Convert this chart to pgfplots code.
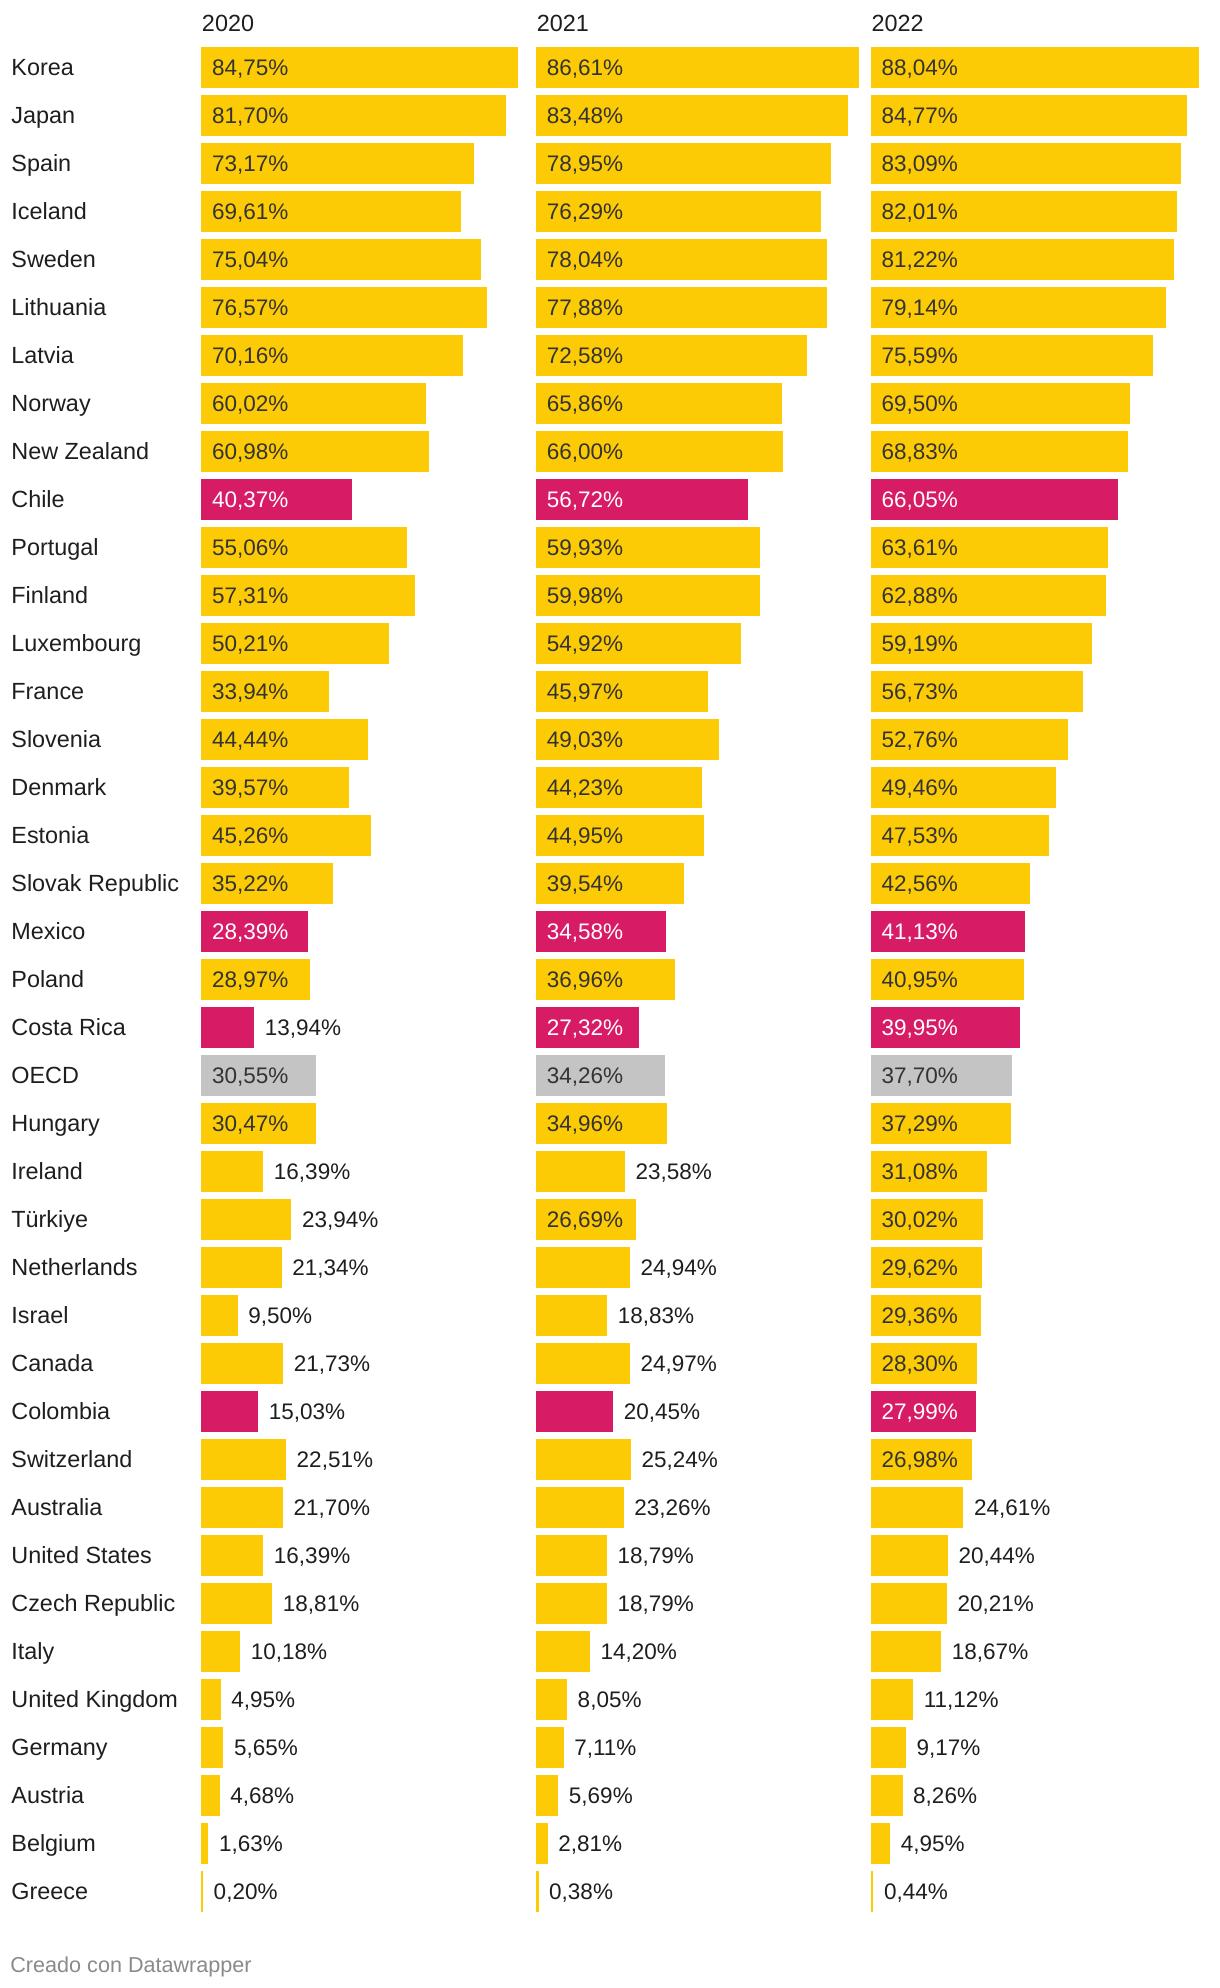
\documentclass[border=0pt]{standalone}
\usepackage{fontspec}
\setmainfont{Liberation Sans}
\usepackage{pgfplots}
\usepackage{pgfplotstable}
\pgfplotsset{compat=1.18}
\definecolor{dwyellow}{HTML}{FDCB05}
\definecolor{dwmag}{HTML}{D81B65}
\definecolor{dwgrey}{HTML}{C4C4C4}
\definecolor{dwtext}{HTML}{333333}
\definecolor{dwdark}{HTML}{1E1E1E}
\definecolor{dwfoot}{HTML}{8A8A8A}

\pgfplotstableread{
row name v20 v21 v22 c
0 Korea 84.75 86.61 88.04 0
1 Japan 81.70 83.48 84.77 0
2 Spain 73.17 78.95 83.09 0
3 Iceland 69.61 76.29 82.01 0
4 Sweden 75.04 78.04 81.22 0
5 Lithuania 76.57 77.88 79.14 0
6 Latvia 70.16 72.58 75.59 0
7 Norway 60.02 65.86 69.50 0
8 {New Zealand} 60.98 66.00 68.83 0
9 Chile 40.37 56.72 66.05 1
10 Portugal 55.06 59.93 63.61 0
11 Finland 57.31 59.98 62.88 0
12 Luxembourg 50.21 54.92 59.19 0
13 France 33.94 45.97 56.73 0
14 Slovenia 44.44 49.03 52.76 0
15 Denmark 39.57 44.23 49.46 0
16 Estonia 45.26 44.95 47.53 0
17 {Slovak Republic} 35.22 39.54 42.56 0
18 Mexico 28.39 34.58 41.13 1
19 Poland 28.97 36.96 40.95 0
20 {Costa Rica} 13.94 27.32 39.95 1
21 OECD 30.55 34.26 37.70 2
22 Hungary 30.47 34.96 37.29 0
23 Ireland 16.39 23.58 31.08 0
24 Türkiye 23.94 26.69 30.02 0
25 Netherlands 21.34 24.94 29.62 0
26 Israel 9.50 18.83 29.36 0
27 Canada 21.73 24.97 28.30 0
28 Colombia 15.03 20.45 27.99 1
29 Switzerland 22.51 25.24 26.98 0
30 Australia 21.70 23.26 24.61 0
31 {United States} 16.39 18.79 20.44 0
32 {Czech Republic} 18.81 18.79 20.21 0
33 Italy 10.18 14.20 18.67 0
34 {United Kingdom} 4.95 8.05 11.12 0
35 Germany 5.65 7.11 9.17 0
36 Austria 4.68 5.69 8.26 0
37 Belgium 1.63 2.81 4.95 0
38 Greece 0.20 0.38 0.44 0
}\data

\pgfplotsset{
  panel/.style={scale only axis, width=163.75pt, height=936pt,
    xmin=0, xmax=88.04, ymin=-0.5, ymax=38.5, y dir=reverse, clip=false,
    axis line style={draw=none}, tick style={draw=none}, major tick length=0pt,
    xtick=\empty, ytick=\empty, anchor=north west,
    title style={at={(0,1)}, anchor=base west, inner sep=0pt, yshift=-0.4pt,
      font=\fontsize{11.7pt}{14pt}\selectfont, text=dwdark}},
  bars/.style={xbar, bar width=20pt, bar shift=0pt, draw=#1, fill=#1, line width=0.3pt},
  val/.style 2 args={draw=none, mark=none, point meta=explicit,
    nodes near coords={\pgfmathprintnumber[fixed,fixed zerofill,precision=2,use comma,assume math mode=true]{\pgfplotspointmeta}\%},
    nodes near coords style={anchor=base west, inner sep=0pt, xshift=#2, yshift=-4.1pt,
      font=\fontsize{11.25pt}{13pt}\selectfont, text=#1}},
}

\newcommand\panel[4]{%
\begin{axis}[panel, at={(#2,-21.5pt)}, title={#3}, #4]
\addplot[bars=dwyellow, restrict expr to domain={\thisrow{c}}{-0.5:0.5}] table[x=#1, y=row]{\data};
\addplot[bars=dwmag, restrict expr to domain={\thisrow{c}}{0.5:1.5}] table[x=#1, y=row]{\data};
\addplot[bars=dwgrey, restrict expr to domain={\thisrow{c}}{1.5:2.5}] table[x=#1, y=row]{\data};
\addplot[val={dwtext}{5pt}, restrict expr to domain={(\thisrow{#1}>26)*(\thisrow{c}!=1)}{0.5:1.5}] table[x expr=0, y=row, meta=#1]{\data};
\addplot[val={white}{5pt}, restrict expr to domain={(\thisrow{#1}>26)*(\thisrow{c}==1)}{0.5:1.5}] table[x expr=0, y=row, meta=#1]{\data};
\addplot[val={dwdark}{5.5pt}, restrict expr to domain={\thisrow{#1}}{-1:26}] table[x=#1, y=row, meta=#1]{\data};
\end{axis}}

\begin{document}
\begin{tikzpicture}
\useasboundingbox (0,0) rectangle (610pt,-994pt);
\panel{v20}{100.8pt}{2020}{ytick={0,...,38}, yticklabels from table={\data}{name},
  yticklabel style={anchor=base west, inner sep=0pt, xshift=-95.3pt, yshift=-4.1pt,
  font=\fontsize{11.7pt}{14pt}\selectfont, text=dwdark}}
\panel{v21}{268.2pt}{2021}{}
\panel{v22}{435.55pt}{2022}{}
\node[anchor=base west, inner sep=0pt, font=\fontsize{10.8pt}{12pt}\selectfont, text=dwfoot] at (5pt,-986pt) {Creado con Datawrapper};
\end{tikzpicture}
\end{document}
